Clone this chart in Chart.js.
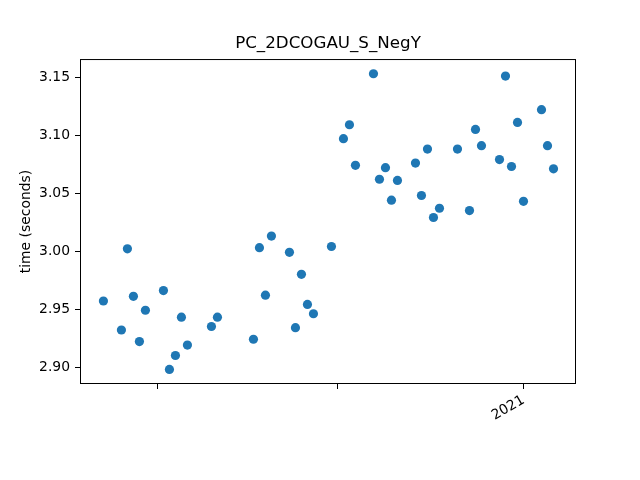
<!DOCTYPE html>
<html>
<head>
<meta charset="utf-8">
<script src="https://cdn.jsdelivr.net/npm/chart.js@4/dist/chart.umd.min.js"></script>
<style>
  html, body { margin: 0; padding: 0; background: #fff; }
</style>
</head>
<body>
<canvas id="chart" width="640" height="480"></canvas>
<script>
// day offsets from 2021-01-01
const days = [-70, -67, -66, -65, -64, -63, -60, -59, -58, -57, -56, -52, -51,
  -45, -44, -43, -42, -39, -38, -37, -36, -35, -32, -30, -29, -28,
  -25, -24, -23, -22, -21, -18, -17, -16, -15, -14, -11, -9, -8, -7,
  -4, -3, -2, -1, 0, 3, 4, 5];
const times = [2.957, 2.932, 3.002, 2.961, 2.922, 2.949, 2.966, 2.898, 2.910, 2.943, 2.919, 2.935, 2.943,
  2.924, 3.003, 2.962, 3.013, 2.999, 2.934, 2.980, 2.954, 2.946, 3.004, 3.097, 3.109, 3.074,
  3.153, 3.062, 3.072, 3.044, 3.061, 3.076, 3.048, 3.088, 3.029, 3.037, 3.088, 3.035, 3.105, 3.091,
  3.079, 3.151, 3.073, 3.111, 3.043, 3.122, 3.091, 3.071];

const xTickDays = [-61, -31, 0];          // 2020-11-01, 2020-12-01, 2021-01-01
const xTickLabels = ['', '', '2021'];
const yTicks = [2.90, 2.95, 3.00, 3.05, 3.10, 3.15];

const FONT = 'DejaVu Sans';

const frame = {
  id: 'frame',
  afterDraw(chart) {
    const a = chart.chartArea, ctx = chart.ctx;
    ctx.save();
    ctx.strokeStyle = '#000';
    ctx.lineWidth = 1;
    ctx.strokeRect(a.left + 0.5, a.top + 0.5, a.right - a.left - 1, a.bottom - a.top - 1);
    ctx.restore();
  }
};

new Chart(document.getElementById('chart'), {
  type: 'scatter',
  data: {
    datasets: [{
      data: days.map((d, i) => ({x: d, y: times[i]})),
      backgroundColor: '#1f77b4',
      borderColor: '#1f77b4',
      borderWidth: 0,
      pointRadius: 4.6,
      pointHoverRadius: 4.6
    }]
  },
  options: {
    responsive: false,
    animation: false,
    events: [],
    layout: {padding: {left: 0, right: 64, top: 0, bottom: 0}},
    plugins: {
      legend: {display: false},
      tooltip: {enabled: false},
      title: {
        display: true,
        text: 'PC_2DCOGAU_S_NegY',
        fullSize: false,
        color: '#000',
        font: {family: FONT, size: 16.7, weight: 'normal'},
        padding: {top: 34, bottom: 5}
      }
    },
    scales: {
      x: {
        type: 'linear',
        min: -73.9,
        max: 8.75,
        afterBuildTicks: s => { s.ticks = xTickDays.map(v => ({value: v})); },
        afterFit: s => { s.height = 96; },
        grid: {drawOnChartArea: false, drawTicks: true, tickLength: 5, tickColor: '#000'},
        border: {display: false},
        ticks: {
          autoSkip: false,
          minRotation: 30,
          maxRotation: 30,
          padding: 3,
          color: '#000',
          font: {family: FONT, size: 13.9},
          callback: v => xTickLabels[xTickDays.indexOf(v)] ?? ''
        }
      },
      y: {
        min: 2.8854,
        max: 3.1657,
        afterBuildTicks: s => { s.ticks = yTicks.map(v => ({value: v})); },
        afterFit: s => { s.width = 80; },
        grid: {drawOnChartArea: false, drawTicks: true, tickLength: 5, tickColor: '#000'},
        border: {display: false},
        title: {
          display: true,
          text: 'time (seconds)',
          color: '#000',
          font: {family: FONT, size: 13.9},
          padding: {top: 18, bottom: 0}
        },
        ticks: {
          padding: 5,
          color: '#000',
          font: {family: FONT, size: 13.9},
          callback: v => v.toFixed(2)
        }
      }
    }
  },
  plugins: [frame]
});
</script>
</body>
</html>
